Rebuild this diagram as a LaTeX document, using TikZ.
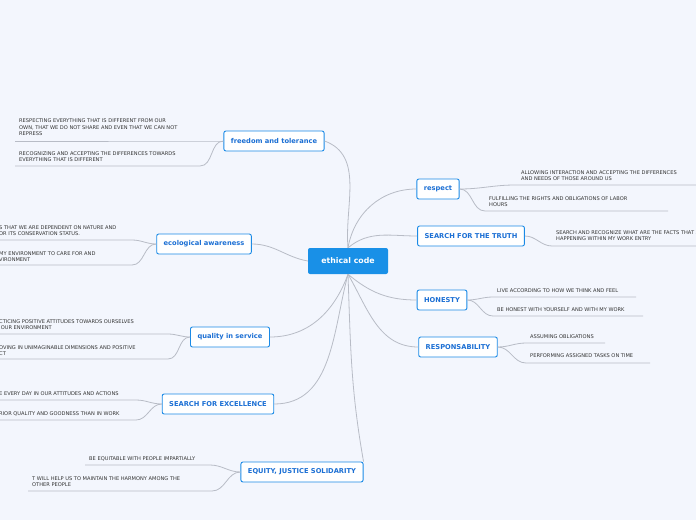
\documentclass[tikz,border=0pt]{standalone}
\usepackage{fontspec}
\setmainfont{DejaVu Sans}
\usetikzlibrary{positioning}
\definecolor{bgcol}{HTML}{F3F6FD}
\definecolor{topicblue}{HTML}{1A8AE6}
\definecolor{topictext}{HTML}{1B6FD4}
\definecolor{linkgray}{HTML}{B8BCC6}
\definecolor{leaftext}{HTML}{333333}
\tikzset{topic/.style={draw=topicblue, fill=white, rounded corners=2pt, line width=0.9pt,
         font=\fontsize{6.7}{7}\selectfont\bfseries, text=topictext, minimum height=20pt, inner xsep=7pt},
         root/.style={fill=topicblue!95!cyan, rounded corners=2pt, text=white,
         font=\fontsize{7.8}{8}\selectfont\bfseries, minimum width=80pt, minimum height=26pt},
         leaf/.style={anchor=south west, inner sep=0pt, align=left, text=leaftext,
         font=\fontsize{5.1}{6.6}\selectfont},
         link/.style={draw=linkgray, line width=0.8pt}}
\begin{document}
\begin{tikzpicture}[x=1pt,y=-1pt]
\fill[bgcol] (0,0) rectangle (696,520);
\clip (0,0) rectangle (696,520);
% main topics
\node[root] (ethic) at (348,261) {ethical code};
\node[topic] (free) at (274,141) {freedom and tolerance};
\node[topic] (eco) at (204,244) {ecological awareness};
\node[topic] (qual) at (230,337) {quality in service};
\node[topic] (exc) at (218,404) {SEARCH FOR EXCELLENCE};
\node[topic] (equ) at (302,472) {EQUITY, JUSTICE SOLIDARITY};
\node[topic] (resp) at (438,189) {respect};
\node[topic] (truth) at (471,236) {SEARCH FOR THE TRUTH};
\node[topic] (hon) at (442,300) {HONESTY};
\node[topic] (rsb) at (458,347) {RESPONSABILITY};
% root links
\draw[link] (ethic.north) to[out=95,in=-20] (free.east);
\draw[link] (ethic.west) to[out=170,in=0] (eco.east);
\draw[link] (ethic.south) to[out=-110,in=0] (qual.east);
\draw[link] (ethic.south) to[out=-105,in=0] (exc.east);
\draw[link] (ethic.south) to[out=-88,in=100] (equ.north east);
\draw[link] (ethic.north) to[out=80,in=180] (resp.west);
\draw[link] (ethic.north) to[out=40,in=180] (truth.west);
\draw[link] (ethic.south) to[out=-40,in=180] (hon.west);
\draw[link] (ethic.south) to[out=-60,in=180] (rsb.west);
% left leaves
\node[leaf] (f1) at (19,136) {RESPECTING EVERYTHING THAT IS DIFFERENT FROM OUR\\OWN, THAT WE DO NOT SHARE AND EVEN THAT WE CAN NOT\\REPRESS};
\node[leaf] (f2) at (19,162) {RECOGNIZING AND ACCEPTING THE DIFFERENCES TOWARDS\\EVERYTHING THAT IS DIFFERENT};
\node[leaf] (e1) at (-1,236) {S THAT WE ARE DEPENDENT ON NATURE AND\\OR ITS CONSERVATION STATUS.};
\node[leaf] (e2) at (-1,262) {MY ENVIRONMENT TO CARE FOR AND\\VIRONMENT};
\node[leaf] (q1) at (-1,330) {CTICING POSITIVE ATTITUDES TOWARDS OURSELVES\\\ OUR ENVIRONMENT};
\node[leaf] (q2) at (-1,356) {OVING IN UNIMAGINABLE DIMENSIONS AND POSITIVE\\CT};
\node[leaf] (x1) at (-1,396) {E EVERY DAY IN OUR ATTITUDES AND ACTIONS};
\node[leaf] (x2) at (-1,416) {RIOR QUALITY AND GOODNESS THAN IN WORK};
\node[leaf] (q3) at (89,461) {BE EQUITABLE WITH PEOPLE IMPARTIALLY};
\node[leaf] (q4) at (32,487) {T WILL HELP US TO MAINTAIN THE HARMONY AMONG THE\\OTHER PEOPLE};
% right leaves
\node[leaf] (r1) at (521,181) {ALLOWING INTERACTION AND ACCEPTING THE DIFFERENCES\\AND NEEDS OF THOSE AROUND US};
\node[leaf] (r2) at (489,207) {FULFILLING THE RIGHTS AND OBLIGATIONS OF LABOR\\HOURS};
\node[leaf] (t1) at (556,241) {SEARCH AND RECOGNIZE WHAT ARE THE FACTS THAT ARE\\HAPPENING WITHIN MY WORK ENTRY};
\node[leaf] (h1) at (497,293) {LIVE ACCORDING TO HOW WE THINK AND FEEL};
\node[leaf] (h2) at (497,312) {BE HONEST WITH YOURSELF AND WITH MY WORK};
\node[leaf] (s1) at (530,339) {ASSUMING OBLIGATIONS};
\node[leaf] (s2) at (530,358) {PERFORMING ASSIGNED TASKS ON TIME};
% leaf links, left side
\draw[link] (free.west) to[out=180,in=0] (200,141) -- (15,141);
\draw[link] (free.west) to[out=180,in=0] (200,166) -- (15,166);
\draw[link] (eco.west) to[out=180,in=0] (132,240) -- (0,240);
\draw[link] (eco.west) to[out=180,in=0] (132,265) -- (0,265);
\draw[link] (qual.west) to[out=180,in=0] (168,334) -- (0,334);
\draw[link] (qual.west) to[out=180,in=0] (168,359) -- (0,359);
\draw[link] (exc.west) to[out=180,in=0] (136,400) -- (0,400);
\draw[link] (exc.west) to[out=180,in=0] (136,420) -- (0,420);
\draw[link] (equ.west) to[out=180,in=0] (210,465) -- (85,465);
\draw[link] (equ.west) to[out=180,in=0] (212,491) -- (28,491);
% leaf links, right side
\draw[link] (resp.east) to[out=0,in=180] (515,185) -- (696,185);
\draw[link] (resp.east) to[out=0,in=180] (485,211) -- (668,211);
\draw[link] (truth.east) to[out=0,in=180] (552,246) -- (696,246);
\draw[link] (hon.east) to[out=0,in=180] (493,297) -- (636,297);
\draw[link] (hon.east) to[out=0,in=180] (493,316) -- (643,316);
\draw[link] (rsb.east) to[out=0,in=180] (526,343) -- (605,343);
\draw[link] (rsb.east) to[out=0,in=180] (526,363) -- (650,363);
\end{tikzpicture}
\end{document}
